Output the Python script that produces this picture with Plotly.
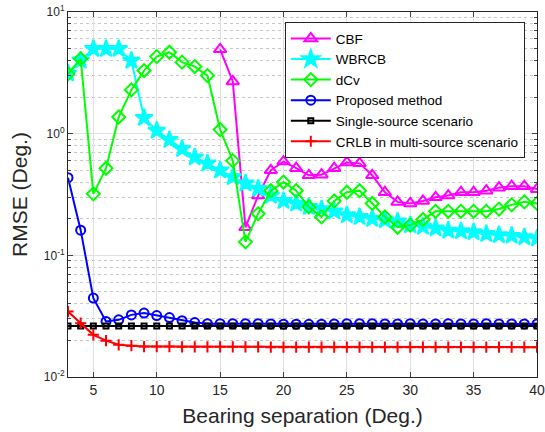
import plotly.graph_objects as go

sep = list(range(3, 41))

cbf_x = list(range(15, 41))
cbf = [4.93, 2.69, 0.17, 0.31, 0.50, 0.59, 0.52, 0.455, 0.46, 0.52, 0.58, 0.57, 0.455, 0.33,
       0.275, 0.267, 0.28, 0.30, 0.31, 0.33, 0.33, 0.34, 0.36, 0.37, 0.37, 0.35]

wbrcb = [3.14, 4.0, 4.98, 4.98, 4.98, 3.98, 1.35, 1.06, 0.89, 0.75, 0.64, 0.57, 0.50, 0.44, 0.39,
         0.354, 0.31, 0.28, 0.267, 0.25, 0.24, 0.23, 0.214, 0.207, 0.20, 0.195, 0.19,
         0.177, 0.172, 0.167, 0.16, 0.158, 0.155, 0.15, 0.147, 0.145, 0.141, 0.138]

dcv = [3.1, 4.12, 0.32, 0.52, 1.37, 2.29, 3.3, 4.3, 4.67, 3.87, 3.56, 3.0, 1.08, 0.60, 0.129,
       0.22, 0.34, 0.40, 0.34, 0.25, 0.207, 0.28, 0.33, 0.34, 0.267, 0.207, 0.17,
       0.177, 0.197, 0.23, 0.23, 0.23, 0.23, 0.23, 0.24, 0.26, 0.275, 0.267]

proposed = [0.435, 0.161, 0.0445, 0.0286, 0.0295, 0.0324, 0.0335, 0.032, 0.0308, 0.029, 0.028,
            0.0274, 0.0274, 0.0274, 0.0274, 0.0274, 0.0273, 0.0272, 0.0272, 0.0271, 0.0272,
            0.0273, 0.0274, 0.0274, 0.0274, 0.0273, 0.0273, 0.0274, 0.0273, 0.0273, 0.0274,
            0.0273, 0.0273, 0.0274, 0.0273, 0.0273, 0.0273, 0.0273]

single = [0.0262] * 38

crlb = [0.0345, 0.0277, 0.0222, 0.0199, 0.0184, 0.0181, 0.0178, 0.0178, 0.0178, 0.0177,
        0.0177, 0.0177, 0.0177, 0.0177, 0.0177, 0.0177, 0.0176, 0.0176, 0.0176, 0.0176,
        0.0176, 0.0176, 0.0176, 0.0176, 0.0176, 0.0176, 0.0176, 0.0176, 0.0176, 0.0176,
        0.0176, 0.0176, 0.0176, 0.0176, 0.0176, 0.0176, 0.0176, 0.0176]

ytickvals = [0.01, 0.1, 1, 10]
yticktext = ["10<sup>-2</sup>", "10<sup>-1</sup>", "10<sup>0</sup>", "10<sup>1</sup>"]
xtickvals = [5, 10, 15, 20, 25, 30, 35, 40]

minor_vals = [m * 10.0 ** e for e in (-2, -1, 0) for m in range(2, 10)]

fig = go.Figure()

def add(x, y, name, color, symbol, size):
    fig.add_trace(go.Scatter(
        x=x, y=y, name=name, mode="lines+markers",
        line=dict(color=color, width=2),
        marker=dict(symbol=symbol, size=size, color=color,
                    line=dict(color=color, width=2)),
    ))

add(cbf_x, cbf, "CBF", "#ff00ff", "triangle-up-open", 11)
add(sep, wbrcb, "WBRCB", "#00ffff", "star", 13)
add(sep, dcv, "dCv", "#00ff00", "diamond-open", 10)
add(sep, proposed, "Proposed method", "#0000ff", "circle-open", 9)
add(sep, single, "Single-source scenario", "#000000", "square-open", 5)
add(sep, crlb, "CRLB in multi-source scenario", "#ff0000", "cross-thin-open", 8)

font = "Liberation Sans, Arial, Helvetica, sans-serif"

fig.update_layout(
    width=545, height=432,
    margin=dict(l=68, r=8, t=12, b=55, autoexpand=False),
    paper_bgcolor="white", plot_bgcolor="white",
    font=dict(family=font, color="#262626", size=12),
    showlegend=True,
    legend=dict(x=0.974, y=0.972, xanchor="right", yanchor="top",
                bgcolor="white", bordercolor="#262626", borderwidth=1,
                font=dict(size=13.5, color="#000000"), itemwidth=40,
                tracegroupgap=0),
    xaxis=dict(range=[3, 40], tickvals=xtickvals, ticks="inside", ticklen=5,
               showline=True, linecolor="#262626", linewidth=1, mirror="ticks",
               showgrid=True, gridcolor="#e0e0e0", gridwidth=1, zeroline=False,
               title=dict(text="Bearing separation (Deg.)", font=dict(size=21), standoff=11),
               tickfont=dict(size=14)),
    yaxis=dict(type="log", range=[-2, 1], tickvals=ytickvals, ticktext=yticktext,
               ticks="inside", ticklen=5,
               showline=True, linecolor="#262626", linewidth=1, mirror="ticks",
               showgrid=True, gridcolor="#e0e0e0", gridwidth=1, zeroline=False,
               title=dict(text="RMSE (Deg.)", font=dict(size=21), standoff=10),
               tickfont=dict(size=12),
               minor=dict(tickvals=minor_vals, ticks="inside", ticklen=3,
                          showgrid=True, gridcolor="#c8c8c8", griddash="dot",
                          gridwidth=1)),
)

fig.write_html("out.html", config={"displayModeBar": False},
               post_script="document.body.style.margin='0px';document.body.style.overflow='hidden';")
